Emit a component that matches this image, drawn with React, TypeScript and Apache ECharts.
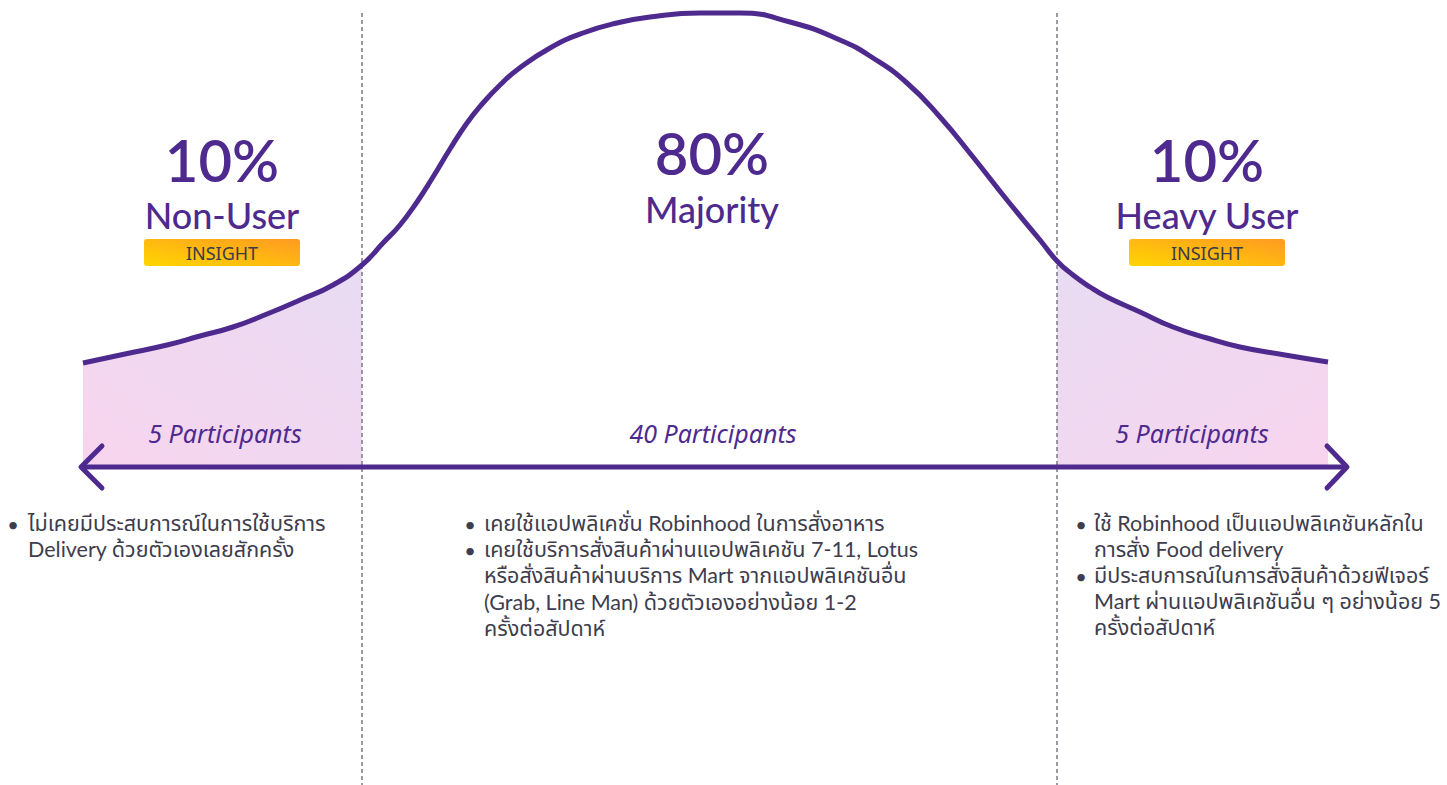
import React, { useEffect, useRef } from "react";
import * as echarts from "echarts";

// Bell curve samples: [position along axis, curve height above the baseline]
const curvePoints: [number, number][] = [
  [83, 104], [125, 113], [167, 122], [200, 131], [233, 140], [267, 153], [300, 167],
  [333, 182], [362, 202], [383, 224], [400, 242], [417, 265], [433, 290], [450, 318],
  [467, 344], [483, 364], [500, 382], [517, 397], [550, 419], [583, 434], [617, 444],
  [650, 450], [700, 454], [740, 454], [790, 445], [840, 427], [873, 409], [907, 384],
  [940, 350], [973, 310], [1007, 267], [1040, 227], [1057, 206], [1073, 192], [1090, 180],
  [1107, 170], [1140, 155], [1173, 140], [1207, 129], [1240, 120], [1285, 112], [1328, 105],
];

// Segment boundaries (dashed separators) on the same axis
const boundaries: number[] = [362, 1057];

// Segment labels
const percents: string[] = ["10%", "80%", "10%"];
const groupNames: string[] = ["Non-User", "Majority", "Heavy User"];
const participants: string[] = ["5 Participants", "40 Participants", "5 Participants"];
const insightLabel = "INSIGHT";

const leftNotes: string[][] = [
  ["ไม่เคยมีประสบการณ์ในการใช้บริการ", "Delivery ด้วยตัวเองเลยสักครั้ง"],
];
const middleNotes: string[][] = [
  ["เคยใช้แอปพลิเคชั่น Robinhood ในการสั่งอาหาร"],
  [
    "เคยใช้บริการสั่งสินค้าผ่านแอปพลิเคชัน 7-11, Lotus",
    "หรือสั่งสินค้าผ่านบริการ Mart จากแอปพลิเคชันอื่น",
    "(Grab, Line Man) ด้วยตัวเองอย่างน้อย 1-2",
    "ครั้งต่อสัปดาห์",
  ],
];
const rightNotes: string[][] = [
  ["ใช้ Robinhood เป็นแอปพลิเคชันหลักใน", "การสั่ง Food delivery"],
  [
    "มีประสบการณ์ในการสั่งสินค้าด้วยฟีเจอร์",
    "Mart ผ่านแอปพลิเคชันอื่น ๆ อย่างน้อย 5",
    "ครั้งต่อสัปดาห์",
  ],
];

const PURPLE = "#4e2a8e";
const BODY = "#3d3d4d";
const HEAD_FONT = "Lato, 'Noto Sans', sans-serif";
const LABEL_FONT = "'Noto Sans', 'Noto Sans Thai', sans-serif";
const THAI_FONT = "Lato, 'Noto Sans Thai', 'Noto Sans', sans-serif";

export default function App() {
  const ref = useRef<HTMLDivElement>(null);

  useEffect(() => {
    if (!ref.current) return;
    const chart = echarts.init(ref.current, undefined, { renderer: "svg" });

    const W = 1447;
    const H = 785;
    const baseY = 467; // pixel row of baseline
    const peak = Math.max(...curvePoints.map((p) => p[1]));

    const leftTail = curvePoints.filter((p) => p[0] <= boundaries[0]);
    const rightTail = curvePoints.filter((p) => p[0] >= boundaries[1]);

    const tailGradient = (reverse: boolean) =>
      new echarts.graphic.LinearGradient(reverse ? 1 : 0, 1, reverse ? 0 : 1, 0, [
        { offset: 0, color: "#f8d4ee" },
        { offset: 1, color: "#e8dcf3" },
      ]);

    const centers = [222, 712, 1207];
    const pctY = [159, 152, 159];
    const nameY = [215, 209, 215];
    const partX = [225, 713, 1192];

    const graphics: any[] = [];

    // arrow shaft and heads
    graphics.push({
      type: "line",
      shape: { x1: 82, y1: baseY, x2: 1346, y2: baseY },
      style: { stroke: PURPLE, lineWidth: 5 },
      z: 10,
    });
    graphics.push({
      type: "polyline",
      shape: { points: [[102, baseY - 21], [81, baseY], [102, baseY + 21]] },
      style: { stroke: PURPLE, lineWidth: 5, fill: null, lineCap: "round", lineJoin: "round" },
      z: 10,
    });
    graphics.push({
      type: "polyline",
      shape: { points: [[1327, baseY - 21], [1347, baseY], [1327, baseY + 21]] },
      style: { stroke: PURPLE, lineWidth: 5, fill: null, lineCap: "round", lineJoin: "round" },
      z: 10,
    });

    percents.forEach((p, i) => {
      graphics.push({
        type: "text",
        x: centers[i],
        y: pctY[i],
        style: {
          text: p,
          fill: PURPLE,
          font: `600 58px ${HEAD_FONT}`,
          textAlign: "center",
          textVerticalAlign: "middle",
        },
        z: 20,
      });
      graphics.push({
        type: "text",
        x: centers[i],
        y: nameY[i],
        style: {
          text: groupNames[i],
          fill: PURPLE,
          font: `500 36px ${HEAD_FONT}`,
          textAlign: "center",
          textVerticalAlign: "middle",
        },
        z: 20,
      });
      graphics.push({
        type: "text",
        x: partX[i],
        y: 433,
        style: {
          text: participants[i],
          fill: PURPLE,
          font: `italic 400 25px ${LABEL_FONT}`,
          textAlign: "center",
          textVerticalAlign: "middle",
        },
        z: 20,
      });
    });

    [0, 2].forEach((i) => {
      graphics.push({
        type: "rect",
        shape: { x: centers[i] - 78, y: 239, width: 156, height: 27, r: 3 },
        style: {
          fill: new echarts.graphic.LinearGradient(0, 1, 1, 0, [
            { offset: 0, color: "#ffd600" },
            { offset: 1, color: "#ff9a22" },
          ]),
        },
        z: 20,
      });
      graphics.push({
        type: "text",
        x: centers[i],
        y: 253,
        style: {
          text: insightLabel,
          fill: "#3a3a48",
          font: `400 18px ${LABEL_FONT}`,
          textAlign: "center",
          textVerticalAlign: "middle",
        },
        z: 21,
      });
    });

    const addNotes = (
      notes: string[][],
      bulletX: number,
      textX: number,
      firstY: number,
      lh: number,
      size: number
    ) => {
      let y = firstY;
      notes.forEach((lines) => {
        graphics.push({
          type: "text",
          x: bulletX,
          y,
          style: { text: "•", fill: BODY, font: `400 20px ${THAI_FONT}`, textAlign: "center", textVerticalAlign: "middle" },
          z: 20,
        });
        graphics.push({
          type: "text",
          x: textX,
          y: y - lh / 2 - 1,
          style: {
            text: lines.join("\n"),
            fill: BODY,
            font: `400 ${size}px ${THAI_FONT}`,
            lineHeight: lh,
            textAlign: "left",
            textVerticalAlign: "top",
          },
          z: 20,
        });
        y += lh * lines.length;
      });
    };
    addNotes(leftNotes, 13, 28, 524, 25.9, 21.5);
    addNotes(middleNotes, 470, 484, 524, 26.2, 21.5);
    addNotes(rightNotes, 1081, 1094, 524, 26, 21.5);

    chart.setOption({
      animation: false,
      grid: { left: 0, right: 0, top: 0, bottom: 0 },
      xAxis: { type: "value", min: 0, max: W, show: false },
      yAxis: { type: "value", min: baseY - H, max: baseY, show: false },
      series: [
        {
          type: "line",
          data: leftTail,
          smooth: 0.5,
          symbol: "none",
          lineStyle: { width: 0 },
          areaStyle: { color: tailGradient(false), opacity: 1, origin: "auto" },
          z: 1,
        },
        {
          type: "line",
          data: rightTail,
          smooth: 0.5,
          symbol: "none",
          lineStyle: { width: 0 },
          areaStyle: { color: tailGradient(true), opacity: 1, origin: "auto" },
          z: 1,
        },
        {
          type: "line",
          data: curvePoints,
          smooth: 0.5,
          symbol: "none",
          lineStyle: { color: PURPLE, width: 5, cap: "butt" },
          z: 5,
          markLine: {
            silent: true,
            symbol: "none",
            label: { show: false },
            lineStyle: { type: [4, 3], color: "#7a7a88", width: 1.5 },
            data: boundaries.map((b) => [
              { coord: [b, peak] },
              { coord: [b, baseY - H] },
            ]),
          },
        },
      ],
      graphic: graphics,
    });

    return () => chart.dispose();
  }, []);

  return (
    <div
      ref={ref}
      style={{ position: "fixed", left: 0, top: 0, width: 1447, height: 785, background: "#fff" }}
    />
  );
}
